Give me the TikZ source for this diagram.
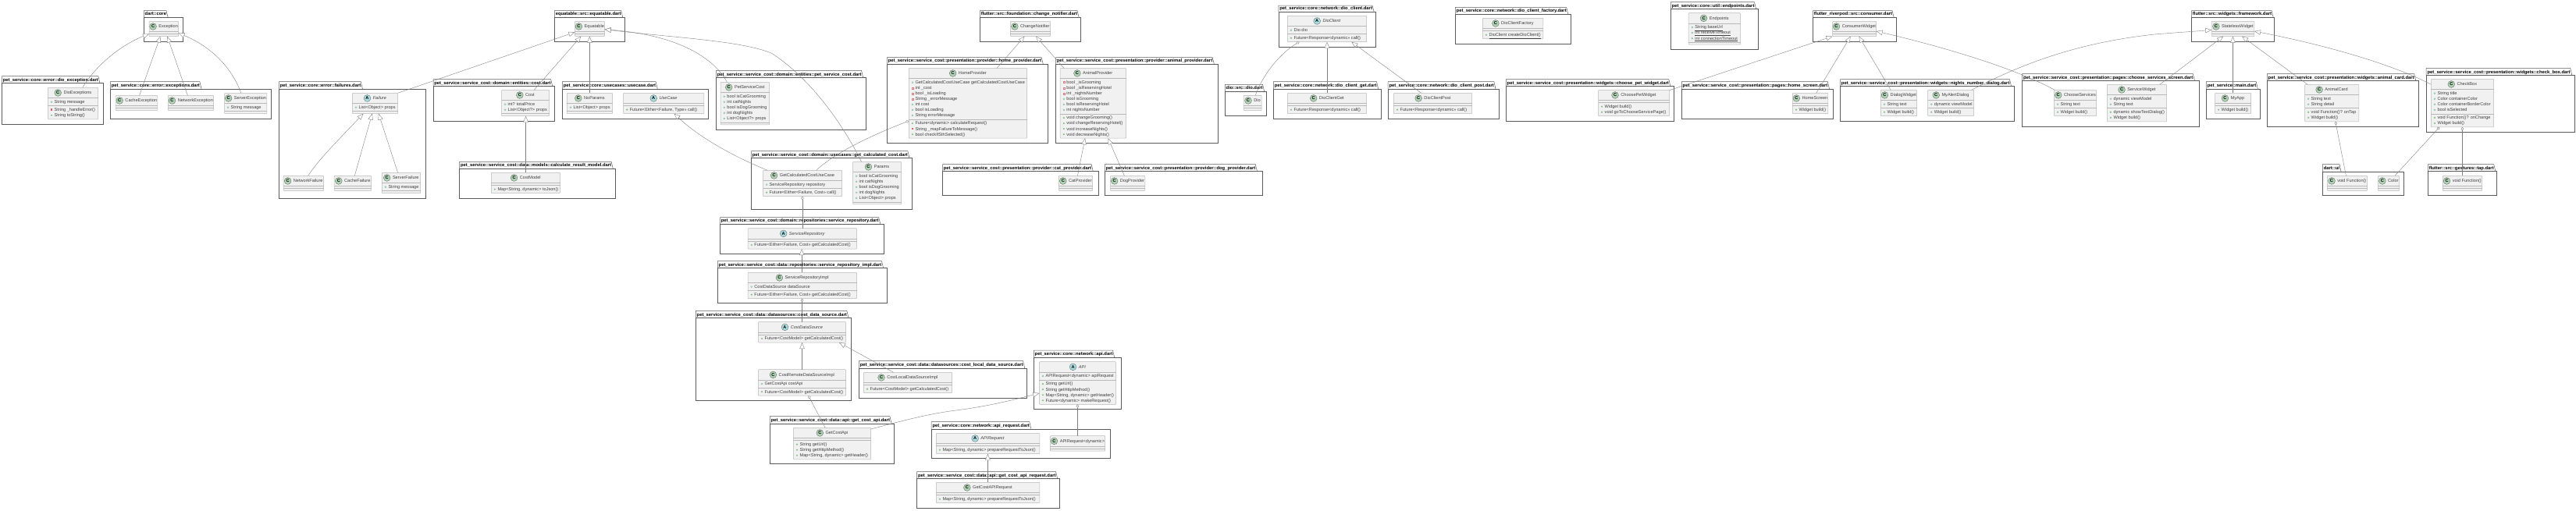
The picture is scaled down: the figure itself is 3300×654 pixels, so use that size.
\documentclass[tikz,border=0pt]{standalone}
\usepackage{fontspec}
\setmainfont{Liberation Sans}
\usetikzlibrary{arrows.meta,calc}
\definecolor{clsfill}{HTML}{F1F1F1}
\definecolor{clsline}{HTML}{B8B8B8}
\definecolor{pkgline}{HTML}{5A5A5A}
\definecolor{connline}{HTML}{808080}
\definecolor{iconC}{HTML}{ADD1B2}
\definecolor{iconA}{HTML}{A9DCDF}
\definecolor{visG}{HTML}{6DB893}
\definecolor{visGf}{HTML}{84BE84}
\definecolor{visR}{HTML}{DD7A80}
\definecolor{visRf}{HTML}{E2606C}
\definecolor{memtext}{HTML}{404040}
\newlength{\ttw}
\newcount\rown
\newcommand{\tinyf}{\fontsize{5.6}{6.6}\selectfont}
\newcommand{\boldf}{\fontsize{5.85}{6.6}\selectfont\bfseries}
\tikzset{
  x=1pt,y=-1pt,
  pkgbody/.style={draw=pkgline,line width=0.5pt,fill=white,inner sep=0pt,outer sep=0pt,anchor=north west},
  pkgtitle/.style={inner sep=0pt,outer sep=0pt,anchor=base west,font=\boldf,text=black},
  clsbox/.style={draw=clsline,line width=0.5pt,fill=clsfill,rounded corners=0.8pt,inner sep=0pt,outer sep=0pt,anchor=north west},
  clssep/.style={draw=clsline,line width=0.5pt},
  clsname/.style={inner sep=0pt,outer sep=0pt,anchor=base west,font=\tinyf,text=memtext},
  memname/.style={inner sep=0pt,outer sep=0pt,anchor=base west,font=\tinyf,text=memtext},
  iconbase/.style={circle,draw=gray!80!black,line width=0.35pt,inner sep=0pt,outer sep=0pt,minimum size=8.8pt,font=\fontsize{5.6}{6}\selectfont\bfseries,text=black},
  ext/.style={draw=connline,line width=0.4pt,-{Triangle[fill=white,length=8pt,width=6.4pt]}},
  agg/.style={draw=connline,line width=0.4pt,{Diamond[fill=white,length=4.6pt,width=3.4pt]}-},
}
% package: id x1 top body x2 bottom title
\newcommand{\pkg}[7]{%
  \pgfmathsetmacro\pw{(#5-#2)}\pgfmathsetmacro\ph{(#6-#4)}%
  \pgfmathsetmacro\pty{#4-2.6}%
  \node[pkgtitle] (#1t) at (#2+1.4,\pty) {#7};
  \draw[draw=pkgline,line width=0.5pt] (#2,#4) -- (#2,#3) -- (#1t.east |- 0,#3) -- ([xshift=2.2pt]#1t.east |- 0,#4);
  \node[pkgbody,minimum width=\pw pt,minimum height=\ph pt] (#1) at (#2,#4) {};
}
% class: id kind(C/A) x1 y1 x2 title nattr nmeth
\newcommand{\cls}[8]{%
  \pgfmathsetmacro\ya{#4+13.3}\pgfmathsetmacro\yb{\ya+7.06*#7+3}\pgfmathsetmacro\yc{\yb+7.06*#8+3}%
  \pgfmathsetmacro\bw{#5-#3}\pgfmathsetmacro\bh{\yc-#4}%
  \node[clsbox,minimum width=\bw pt,minimum height=\bh pt] (#1) at (#3,#4) {};
  \draw[clssep] (#3,\ya) -- (#5,\ya) (#3,\yb) -- (#5,\yb);
  \pgfinterruptpicture\ifx#2A\settowidth{\ttw}{\tinyf\itshape #6}\else\settowidth{\ttw}{\tinyf #6}\fi\global\ttw=\ttw\endpgfinterruptpicture
  \pgfmathsetmacro\gl{(#3+#5)/2-(\ttw+8.8+2.9)/2}%
  \pgfmathsetmacro\ic{\gl+4.4}\pgfmathsetmacro\tl{\gl+8.8+2.9}\pgfmathsetmacro\iy{#4+6.65}\pgfmathsetmacro\ty{#4+8.6}%
  \node[iconbase,fill=icon#2] (#1i) at (\ic,\iy) {#2};
  \ifx#2A\node[clsname,font=\tinyf\itshape] (#1n) at (\tl,\ty) {#6};\else\node[clsname] (#1n) at (\tl,\ty) {#6};\fi
  \def\cid{#1}\def\rowx{#3}\rown=0
  \pgfmathsetmacro\ycur{\ya+5.03}\pgfmathsetmacro\ymet{\yb+5.03}%
}
\newcommand{\mkrow}[2]{% y text
  \advance\rown by 1
  \pgfmathsetmacro\txx{\rowx+8.2}\pgfmathsetmacro\tyy{#1+1.9}%
  \node[memname] (\cid r\the\rown) at (\txx,\tyy) {#2};
}
\newcommand{\markx}{\pgfmathsetmacro\mx{\rowx+4.6}}
\newcommand{\rF}[1]{\markx\draw[draw=visG,line width=0.35pt] (\mx,\ycur) circle[radius=1.05pt];\mkrow{\ycur}{#1}\pgfmathsetmacro\ycur{\ycur+7.06}}
\newcommand{\rV}[1]{\markx\draw[draw=visR,line width=0.35pt] (\mx-1,\ycur-1) rectangle (\mx+1,\ycur+1);\mkrow{\ycur}{#1}\pgfmathsetmacro\ycur{\ycur+7.06}}
\newcommand{\rM}[1]{\markx\fill[visGf] (\mx,\ymet) circle[radius=1.2pt];\mkrow{\ymet}{#1}\pgfmathsetmacro\ymet{\ymet+7.06}}
\newcommand{\rP}[1]{\markx\fill[visRf] (\mx-1.2,\ymet-1.2) rectangle (\mx+1.2,\ymet+1.2);\mkrow{\ymet}{#1}\pgfmathsetmacro\ymet{\ymet+7.06}}
\begin{document}
\begin{tikzpicture}
\useasboundingbox (0,0) rectangle (3300,654);
\fill[white] (0,0) rectangle (3300,654);
% ---------- packages
\pkg{Pa}{184.3}{13.7}{22.3}{234.6}{53.3}{dart::core}
\pkg{Pb}{2.5}{97.7}{106.7}{132.5}{159.7}{pet\_service::core::error::dio\_exception.dart}
\pkg{Pc}{141.4}{104.7}{114.3}{347.5}{152.7}{pet\_service::core::error::exceptions.dart}
\pkg{Pd}{357.5}{104.7}{114.3}{545.7}{254.7}{pet\_service::core::error::failures.dart}
\pkg{Pe}{710.4}{13.7}{22.3}{800.4}{53.3}{equatable::src::equatable.dart}
\pkg{Pf}{555}{101.7}{110.7}{710.4}{155.3}{pet\_service::service\_cost::domain::entities::cost.dart}
\pkg{Pg}{588.6}{207.3}{216.3}{788.6}{254.7}{pet\_service::service\_cost::data::models::calculate\_result\_model.dart}
\pkg{Ph}{720.4}{104.7}{114.3}{907.5}{152.7}{pet\_service::core::usecases::usecase.dart}
\pkg{Pi}{917.5}{90.3}{99.7}{1109.6}{166.7}{pet\_service::service\_cost::domain::entities::pet\_service\_cost.dart}
\pkg{Pj}{962.5}{193.7}{202.7}{1168.2}{268.7}{pet\_service::service\_cost::domain::usecases::get\_calculated\_cost.dart}
\pkg{Pk}{922.5}{278.7}{287.3}{1132.5}{325.7}{pet\_service::service\_cost::domain::repositories::service\_repository.dart}
\pkg{Pl}{919.3}{334.7}{343.7}{1136.4}{388.3}{pet\_service::service\_cost::data::repositories::service\_repository\_impl.dart}
\pkg{Pm}{891.3}{398.3}{407.7}{1090.5}{513.3}{pet\_service::service\_cost::data::datasources::cost\_data\_source.dart}
\pkg{Pn}{1100.4}{462.7}{472}{1315.7}{510.7}{pet\_service::service\_cost::data::datasources::cost\_local\_data\_source.dart}
\pkg{Po}{1324.3}{449}{458.3}{1436.4}{524.3}{pet\_service::core::network::api.dart}
\pkg{Pp}{986.4}{533.7}{543}{1145.7}{594.7}{pet\_service::service\_cost::data::api::get\_cost\_api.dart}
\pkg{Pq}{1193.2}{540.7}{550}{1421.8}{587.7}{pet\_service::core::network::api\_request.dart}
\pkg{Pr}{1174.6}{604.7}{613.7}{1357.5}{651.7}{pet\_service::service\_cost::data::api::get\_cost\_api\_request.dart}
\pkg{Ps}{1255.4}{13.7}{22.3}{1384.6}{53.3}{flutter::src::foundation::change\_notifier.dart}
\pkg{Pt}{1136.4}{73.7}{82.3}{1342.5}{183.3}{pet\_service::service\_cost::presentation::provider::home\_provider.dart}
\pkg{Pu}{1352.5}{73.7}{82.3}{1560.7}{183.3}{pet\_service::service\_cost::presentation::provider::animal\_provider.dart}
\pkg{Pv}{1207.5}{210.7}{219.7}{1406.8}{250.3}{pet\_service::service\_cost::presentation::provider::cat\_provider.dart}
\pkg{Pw}{1415.4}{210.7}{219.7}{1616.8}{250.3}{pet\_service::service\_cost::presentation::provider::dog\_provider.dart}
\pkg{Px}{1569.3}{108.3}{117.3}{1621.8}{148.7}{dio::src::dio.dart}
\pkg{Py}{1637.9}{7}{15}{1762.5}{60.7}{pet\_service::core::network::dio\_client.dart}
\pkg{Pz}{1631.4}{104.7}{114.3}{1769.6}{152.7}{pet\_service::core::network::dio\_client\_get.dart}
\pkg{Qa}{1778.2}{104.7}{114.3}{1920.7}{152.7}{pet\_service::core::network::dio\_client\_post.dart}
\pkg{Qb}{1864.3}{9.3}{18.3}{2012.5}{56.7}{pet\_service::core::network::dio\_client\_factory.dart}
\pkg{Qc}{1929.3}{101.7}{110.7}{2144.6}{155.3}{pet\_service::service\_cost::presentation::widgets::choose\_pet\_widget.dart}
\pkg{Qd}{2140.4}{2.7}{11.7}{2252.5}{63.3}{pet\_service::core::util::endpoints.dart}
\pkg{Qe}{2154.3}{104.7}{114.3}{2348.6}{152.7}{pet\_service::service\_cost::presentation::pages::home\_screen.dart}
\pkg{Qf}{2322.5}{13.7}{22.3}{2429.6}{53.3}{flutter\_riverpod::src::consumer.dart}
\pkg{Qg}{2357.5}{101.7}{110.7}{2580.7}{155.3}{pet\_service::service\_cost::presentation::widgets::nights\_number\_dialog.dart}
\pkg{Qh}{2590.7}{94.7}{103.7}{2816.8}{162.7}{pet\_service::service\_cost::presentation::pages::choose\_services\_screen.dart}
\pkg{Qi}{2807.5}{13.7}{22.3}{2913.6}{53.3}{flutter::src::widgets::framework.dart}
\pkg{Qj}{2826.4}{104.7}{114.3}{2895.7}{152.7}{pet\_service::main.dart}
\pkg{Qk}{2904.3}{94.7}{103.7}{3098.6}{162.7}{pet\_service::service\_cost::presentation::widgets::animal\_card.dart}
\pkg{Ql}{3108.2}{87.3}{96.7}{3298.6}{169.7}{pet\_service::service\_cost::presentation::widgets::check\_box.dart}
\pkg{Qm}{2975.4}{210.7}{220.3}{3079.6}{250.3}{dart::ui}
\pkg{Qn}{3110.4}{210.7}{219.7}{3198.2}{250.3}{flutter::src::gestures::tap.dart}
% ---------- classes
\cls{Exception}{C}{191}{27.3}{228.6}{Exception}{0}{0}
\cls{DioExceptions}{C}{61.4}{112.3}{125.7}{DioExceptions}{1}{2}
\rF{String message}\rP{String \_handleError()}\rM{String toString()}
\cls{CacheException}{C}{148.2}{122.3}{201.8}{CacheException}{0}{0}
\cls{NetworkException}{C}{215.4}{122.3}{273.6}{NetworkException}{0}{0}
\cls{ServerException}{C}{287.5}{119.3}{341.8}{ServerException}{1}{0}
\rF{String message}
\cls{Failure}{A}{451.4}{119.3}{509.6}{Failure}{1}{0}
\rF{List<Object> props}
\cls{NetworkFailure}{C}{363.2}{225.3}{414.6}{NetworkFailure}{0}{0}
\cls{CacheFailure}{C}{428.2}{225.3}{475.7}{CacheFailure}{0}{0}
\cls{ServerFailure}{C}{489.3}{221.3}{538.6}{ServerFailure}{1}{0}
\rF{String message}
\cls{Equatable}{C}{736.4}{27.3}{774.6}{Equatable}{0}{0}
\cls{Cost}{C}{642.5}{115.3}{703.6}{Cost}{2}{0}
\rF{int? totalPrice}\rF{List<Object?> props}
\cls{CostModel}{C}{629.3}{221.3}{717.5}{CostModel}{0}{1}
\rM{Map<String, dynamic> toJson()}
\cls{NoParams}{C}{726.4}{119.3}{784.6}{NoParams}{1}{0}
\rF{List<Object> props}
\cls{UseCase}{A}{798.6}{119.3}{901.8}{UseCase}{0}{1}
\rM{Future<Either<Failure, Type>> call()}
\cls{PetServiceCost}{C}{923.2}{105.3}{985.7}{PetServiceCost}{5}{0}
\rF{bool isCatGrooming}\rF{int catNights}\rF{bool isDogGrooming}\rF{int dogNights}\rF{List<Object?> props}
\cls{GetCalculatedCostUseCase}{C}{977.5}{218.3}{1078.6}{GetCalculatedCostUseCase}{1}{1}
\rF{ServiceRepository repository}\rM{Future<Either<Failure, Cost>> call()}
\cls{Params}{C}{1092.5}{207.3}{1154.6}{Params}{5}{0}
\rF{bool isCatGrooming}\rF{int catNights}\rF{bool isDogGrooming}\rF{int dogNights}\rF{List<Object> props}
\cls{ServiceRepository}{A}{958.2}{292.7}{1097.5}{ServiceRepository}{0}{1}
\rM{Future<Either<Failure, Cost>> getCalculatedCost()}
\cls{ServiceRepositoryImpl}{C}{958.2}{349.3}{1097.5}{ServiceRepositoryImpl}{1}{1}
\rF{CostDataSource dataSource}\rM{Future<Either<Failure, Cost>> getCalculatedCost()}
\cls{CostDataSource}{A}{971.4}{412.7}{1083.6}{CostDataSource}{0}{1}
\rM{Future<CostModel> getCalculatedCost()}
\cls{CostRemoteDataSourceImpl}{C}{971.4}{473.7}{1083.6}{CostRemoteDataSourceImpl}{1}{1}
\rF{GetCostApi costApi}\rM{Future<CostModel> getCalculatedCost()}
\cls{CostLocalDataSourceImpl}{C}{1106.4}{477.3}{1219.6}{CostLocalDataSourceImpl}{0}{1}
\rM{Future<CostModel> getCalculatedCost()}
\cls{API}{A}{1331.4}{463.7}{1429.6}{API}{1}{4}
\rF{APIRequest<dynamic> apiRequest}\rM{String getUrl()}\rM{String getHttpMethod()}\rM{Map<String, dynamic> getHeader()}\rM{Future<dynamic> makeRequest()}
\cls{GetCostApi}{C}{1016.4}{548.3}{1115.7}{GetCostApi}{0}{3}
\rM{String getUrl()}\rM{String getHttpMethod()}\rM{Map<String, dynamic> getHeader()}
\cls{APIRequest}{A}{1199.3}{555.3}{1331.8}{APIRequest}{0}{1}
\rM{Map<String, dynamic> prepareRequestToJson()}
\cls{APIRequestDyn}{C}{1345.4}{558.7}{1415.7}{APIRequest<dynamic>}{0}{0}
\cls{GetCostAPIRequest}{C}{1199.3}{618.3}{1331.8}{GetCostAPIRequest}{0}{1}
\rM{Map<String, dynamic> prepareRequestToJson()}
\cls{ChangeNotifier}{C}{1294.3}{27.3}{1345.7}{ChangeNotifier}{0}{0}
\cls{HomeProvider}{C}{1164.3}{87.3}{1315.7}{HomeProvider}{7}{3}
\rF{GetCalculatedCostUseCase getCalculatedCostUseCase}\rV{int \_cost}\rV{bool \_isLoading}\rV{String \_errorMessage}\rF{int cost}\rF{bool isLoading}\rF{String errorMessage}
\rM{Future<dynamic> calculateRequest()}\rP{String \_mapFailureToMessage()}\rM{bool checkIfSthSelected()}
\cls{AnimalProvider}{C}{1358.2}{87.3}{1442.5}{AnimalProvider}{6}{4}
\rV{bool \_isGrooming}\rV{bool \_isReservingHotel}\rV{int \_nightsNumber}\rF{bool isGrooming}\rF{bool isReservingHotel}\rF{int nightsNumber}
\rM{void changeGrooming()}\rM{void changeReservingHotel()}\rM{void increaseNights()}\rM{void decreaseNights()}
\cls{CatProvider}{C}{1356.4}{225.3}{1399.6}{CatProvider}{0}{0}
\cls{DogProvider}{C}{1422.5}{225.3}{1466.8}{DogProvider}{0}{0}
\cls{Dio}{C}{1593.2}{122.3}{1616.1}{Dio}{0}{0}
\cls{DioClient}{A}{1649.3}{20.3}{1750.7}{DioClient}{1}{1}
\rF{Dio dio}\rM{Future<Response<dynamic>> call()}
\cls{DioClientGet}{C}{1649.3}{119.3}{1750.7}{DioClientGet}{0}{1}
\rM{Future<Response<dynamic>> call()}
\cls{DioClientPost}{C}{1785.4}{119.3}{1885.7}{DioClientPost}{0}{1}
\rM{Future<Response<dynamic>> call()}
\cls{DioClientFactory}{C}{1899.3}{23.3}{1976.8}{DioClientFactory}{0}{1}
\rM{\underline{DioClient createDioClient()}}
\cls{ChoosePetWidget}{C}{2047.5}{115.3}{2138.6}{ChoosePetWidget}{0}{2}
\rM{Widget build()}\rM{void goToChooseServicePage()}
\cls{Endpoints}{C}{2163.2}{16.7}{2229.6}{Endpoints}{3}{0}
\rF{\underline{String baseUrl}}\rF{\underline{int receiveTimeout}}\rF{\underline{int connectionTimeout}}
\cls{HomeScreen}{C}{2296.4}{119.3}{2341.8}{HomeScreen}{0}{1}
\rM{Widget build()}
\cls{ConsumerWidget}{C}{2347.5}{27.3}{2403.6}{ConsumerWidget}{0}{0}
\cls{DialogWidget}{C}{2409.3}{115.3}{2455.7}{DialogWidget}{1}{1}
\rF{String text}\rM{Widget build()}
\cls{MyAlertDialog}{C}{2469.6}{115.3}{2528.6}{MyAlertDialog}{1}{1}
\rF{dynamic viewModel}\rM{Widget build()}
\cls{ChooseServices}{C}{2631.4}{115.3}{2685.7}{ChooseServices}{1}{1}
\rF{String text}\rM{Widget build()}
\cls{ServiceWidget}{C}{2699.3}{108.3}{2775.7}{ServiceWidget}{2}{2}
\rF{dynamic viewModel}\rF{String text}\rM{dynamic showTextDialog()}\rM{Widget build()}
\cls{StatelessWidget}{C}{2833.2}{27.3}{2887.9}{StatelessWidget}{0}{0}
\cls{MyApp}{C}{2837.5}{119.3}{2883.6}{MyApp}{0}{1}
\rM{Widget build()}
\cls{AnimalCard}{C}{2952.5}{108.3}{3021.8}{AnimalCard}{2}{2}
\rF{String text}\rF{String detail}\rM{void Function()? onTap}\rM{Widget build()}
\cls{CheckBox}{C}{3114.3}{101.3}{3194.6}{CheckBox}{4}{2}
\rF{String title}\rF{Color containerColor}\rF{Color containerBorderColor}\rF{bool isSelected}\rM{void Function()? onChange}\rM{Widget build()}
\cls{VoidFnA}{C}{2981.4}{225.3}{3032.5}{void Function()}{0}{0}
\cls{ColorC}{C}{3046.4}{225.3}{3073.6}{Color}{0}{0}
\cls{VoidFnB}{C}{3129.3}{225.3}{3179.6}{void Function()}{0}{0}
% ---------- connectors
\draw[ext] (105.7,0 |- DioExceptions.north) .. controls (120,88) and (150,60) .. (Exception.west |- 0,43.3);
\draw[ext] (178.6,0 |- CacheException.north) -- (205.4,0 |- Exception.south);
\draw[ext] (240.4,0 |- NetworkException.north) -- (214.3,0 |- Exception.south);
\draw[ext] (308.9,0 |- ServerException.north) .. controls (298,90) and (275,62) .. (Exception.east |- 0,42.3);
\draw[ext] (509.6,0 |- Failure.north) -- (Equatable.west |- 0,41.3);
\draw[ext] (394.6,0 |- NetworkFailure.north) .. controls (408,205) and (430,183) .. (465.4,0 |- Failure.south);
\draw[ext] (454.3,0 |- CacheFailure.north) -- (476.8,0 |- Failure.south);
\draw[ext] (509.6,0 |- ServerFailure.north) -- (485,0 |- Failure.south);
\draw[ext] (684.3,0 |- Cost.north) -- (744.3,0 |- Equatable.south);
\draw[ext] (755.4,0 |- NoParams.north) -- (755.4,0 |- Equatable.south);
\draw[ext] (931.4,0 |- PetServiceCost.north) .. controls (915,75) and (870,45) .. (Equatable.east |- 0,37.7);
\draw[ext] (1103.6,0 |- Params.north) .. controls (1085,170) and (1045,105) .. (988.6,68.3) .. controls (950,52) and (860,48) .. (Equatable.east |- 0,37.7);
\draw[ext] (673.6,0 |- CostModel.north) -- (673.6,0 |- Cost.south);
\draw[ext] (983.2,0 |- GetCalculatedCostUseCase.north) .. controls (950,205) and (900,180) .. (863.6,0 |- UseCase.south);
\draw[agg] (HomeProvider.west |- 0,155) .. controls (1120,172) and (1070,195) .. (1045.7,0 |- GetCalculatedCostUseCase.north);
\draw[agg] (1027.9,0 |- GetCalculatedCostUseCase.south) -- (1027.9,0 |- ServiceRepository.north);
\draw[ext] (1027.1,0 |- ServiceRepositoryImpl.north) -- (1027.1,0 |- ServiceRepository.south);
\draw[agg] (1027.5,0 |- ServiceRepositoryImpl.south) -- (1027.5,0 |- CostDataSource.north);
\draw[ext] (1027.5,0 |- CostRemoteDataSourceImpl.north) -- (1027.5,0 |- CostDataSource.south);
\draw[ext] (1144.6,0 |- CostLocalDataSourceImpl.north) -- (1075,0 |- CostDataSource.south);
\draw[agg] (1035.7,0 |- CostRemoteDataSourceImpl.south) -- (1057.1,0 |- GetCostApi.north);
\draw[ext] (GetCostApi.east |- 0,550) .. controls (1150,541) and (1190,530) .. (1225,526) .. controls (1270,520) and (1300,512) .. (API.west |- 0,504);
\draw[agg] (1380.4,0 |- API.south) -- (1380.4,0 |- APIRequestDyn.north);
\draw[ext] (1265.4,0 |- GetCostAPIRequest.north) -- (1265.4,0 |- APIRequest.south);
\draw[ext] (1277.1,0 |- HomeProvider.north) -- (1312.5,0 |- ChangeNotifier.south);
\draw[ext] (1362.9,0 |- AnimalProvider.north) -- (1327.1,0 |- ChangeNotifier.south);
\draw[ext] (1380.4,0 |- CatProvider.north) -- (1390,0 |- AnimalProvider.south);
\draw[ext] (1440.4,0 |- DogProvider.north) -- (1419.6,0 |- AnimalProvider.south);
\draw[agg] (1664.5,0 |- DioClient.south) .. controls (1645,65) and (1620,90) .. (1608.2,0 |- Dio.north);
\draw[ext] (1700,0 |- DioClientGet.north) -- (1700,0 |- DioClient.south);
\draw[ext] (1820.7,0 |- DioClientPost.north) -- (1731.4,0 |- DioClient.south);
\draw[ext] (ChoosePetWidget.east |- 0,115.7) -- (2347.5,0 |- ConsumerWidget.south);
\draw[ext] (2326.8,0 |- HomeScreen.north) -- (2370.7,0 |- ConsumerWidget.south);
\draw[ext] (2422.1,0 |- DialogWidget.north) -- (2381.4,0 |- ConsumerWidget.south);
\draw[ext] (2525.7,0 |- MyAlertDialog.north) .. controls (2590,82) and (2660,55) .. (2760,44) .. controls (2790,41.5) and (2815,40) .. (StatelessWidget.west |- 0,38.3);
\draw[ext] (2632.1,0 |- ChooseServices.north) .. controls (2590,92) and (2510,65) .. (ConsumerWidget.east |- 0,40);
\draw[ext] (2766.8,0 |- ServiceWidget.north) -- (2848.2,0 |- StatelessWidget.south);
\draw[ext] (2860.4,0 |- MyApp.north) -- (2860.4,0 |- StatelessWidget.south);
\draw[ext] (2956.1,0 |- AnimalCard.north) -- (2872.1,0 |- StatelessWidget.south);
\draw[ext] (CheckBox.west |- 0,108.3) .. controls (3070,85) and (2990,60) .. (StatelessWidget.east |- 0,40);
\draw[agg] (2991.8,0 |- AnimalCard.south) -- (3005.4,0 |- VoidFnA.north);
\draw[agg] (3125,0 |- CheckBox.south) -- (3067.9,0 |- ColorC.north);
\draw[agg] (3154.3,0 |- CheckBox.south) -- (3154.3,0 |- VoidFnB.north);
\end{tikzpicture}
\end{document}
